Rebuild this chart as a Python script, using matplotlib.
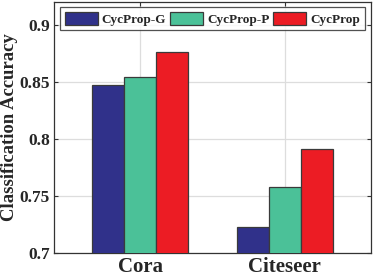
import matplotlib
matplotlib.use("Agg")
import matplotlib.pyplot as plt
import numpy as np

categories = ["Cora", "Citeseer"]
series_names = ["CycProp-G", "CycProp-P", "CycProp"]
cycprop_g = [0.847, 0.723]
cycprop_p = [0.854, 0.758]
cycprop = [0.876, 0.791]
colors = ["#30318A", "#4BC198", "#EC1C24"]
yticks = [0.7, 0.75, 0.8, 0.85, 0.9]

plt.rcParams['font.family'] = ['Liberation Serif', 'DejaVu Serif']
plt.rcParams['font.weight'] = 'bold'

fig = plt.figure(figsize=(3.74, 2.77), dpi=100)
ax = fig.add_axes([54/374, 1-253/277, 317/374, 251/277])

x = np.arange(1, len(categories) + 1)
w = 0.222
for i, (vals, name, c) in enumerate(zip([cycprop_g, cycprop_p, cycprop], series_names, colors)):
    ax.bar(x + (i - 1) * w, vals, width=w, color=c, edgecolor="#3a3a3a", linewidth=0.9,
           label=name, zorder=3)

ax.set_xlim(0.4, 2.6)
ax.set_ylim(0.7, 0.92)
ax.set_xticks(x)
ax.set_xticklabels(categories, fontsize=15, fontweight='bold')
ax.set_yticks(yticks)
ax.set_yticklabels([f"{t:g}" for t in yticks], fontsize=12.5, fontweight='bold')
ax.set_ylabel("Classification Accuracy", fontsize=13.5, fontweight='bold')
ax.yaxis.set_label_coords(-0.112, 0.5)
ax.grid(True, color="#dddddd", linewidth=0.9, zorder=0)
ax.tick_params(direction='in', top=True, right=True, length=3, width=0.8, pad=3, colors="#333333")
for lab in ax.get_xticklabels() + ax.get_yticklabels():
    lab.set_color("#262626")
ax.yaxis.label.set_color("#262626")
for s in ax.spines.values():
    s.set_color("#333333")
    s.set_linewidth(0.9)

leg = ax.legend(loc='upper center', ncol=3, fontsize=9.5, frameon=True, fancybox=False,
                edgecolor="#262626", handlelength=2.5, handleheight=1.1, handletextpad=0.3,
                columnspacing=0.3, borderpad=0.35, borderaxespad=0.4,
                bbox_to_anchor=(0.5, 1.0))
leg.get_frame().set_linewidth(0.9)
for t in leg.get_texts():
    t.set_fontweight('bold')
    t.set_color("#262626")

fig.savefig("out.png", dpi=100)
